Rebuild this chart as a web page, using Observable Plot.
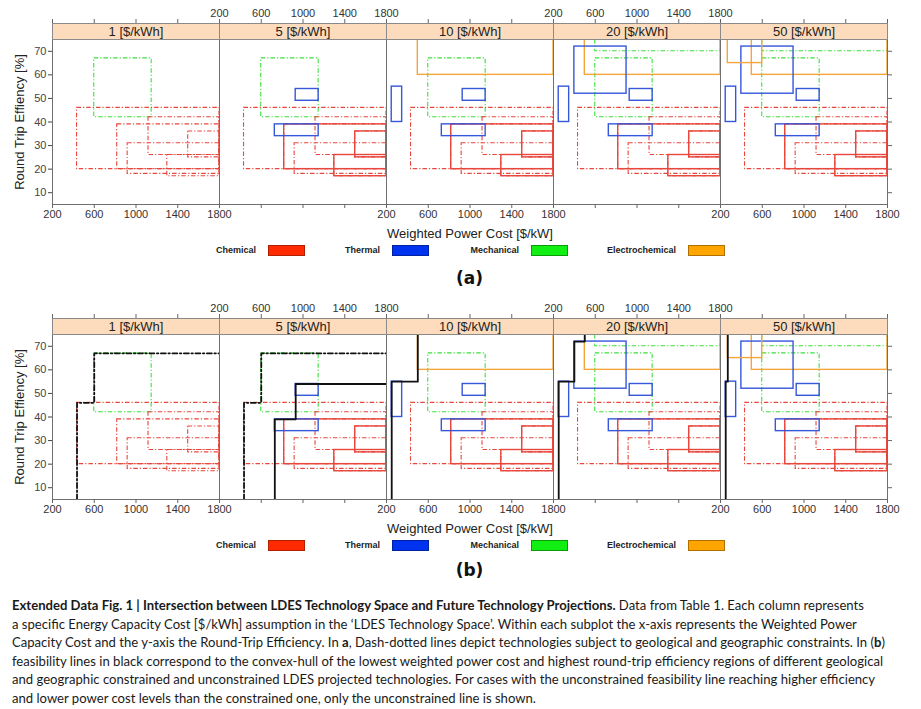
<!DOCTYPE html>
<html>
<head>
<meta charset="utf-8">
<script src="https://cdn.jsdelivr.net/npm/d3@7"></script>
<script src="https://cdn.jsdelivr.net/npm/@observablehq/plot@0.6"></script>
<style>
  html, body { margin: 0; padding: 0; background: #fff; }
  body { width: 921px; height: 709px; position: relative; overflow: hidden; font-family: "Liberation Sans", Arial, sans-serif; }
  .panel { position: absolute; left: 0; width: 921px; height: 295px; }
  .panel svg { position: absolute; left: 0; top: 0; }
  .leg-label { position: absolute; font-weight: bold; font-size: 9px; color: #222; text-align: right; width: 100px; line-height: 11px; }
  .leg-swatch { position: absolute; width: 37px; height: 11px; box-sizing: border-box; }
  .plabel { position: absolute; left: 0; width: 939px; text-align: center; font-family: "DejaVu Sans", sans-serif; font-weight: bold; font-size: 17px; color: #111; line-height: 20px; }
  #caption { position: absolute; left: 12px; top: 596px; font-family: Lato, "Open Sans", sans-serif; font-size: 13.1px; line-height: 18.5px; color: #1a1a1a; white-space: nowrap; }
</style>
</head>
<body>
<div id="panelA" class="panel" style="top:0px"></div>
<div id="panelB" class="panel" style="top:295px"></div>
<div id="caption"></div>
<script>
// ---------- data ----------
const energyCosts = [1, 5, 10, 20, 50];                 // $/kWh, one facet each
const powerTicks = [200, 600, 1000, 1400, 1800];         // x ticks, $/kW
const rteTicks = [10, 20, 30, 40, 50, 60, 70];           // y ticks, %
const techTypes = ["Chemical", "Thermal", "Mechanical", "Electrochemical"];
const techColors = ["#e8473d", "#3657da", "#3ddf3d", "#f4a53c"];
const swatchColors = ["#ff2a00", "#0033f0", "#11ee11", "#ffa500"];
const swatchBorders = ["#b02000", "#0022a0", "#0a9a0a", "#b07000"];

// technology regions (power cost range x RTE range)
const rectType        = ["Mechanical","Mechanical","Chemical","Chemical","Chemical","Chemical","Chemical","Chemical","Chemical","Chemical","Chemical","Thermal","Thermal","Thermal","Electrochemical","Thermal","Electrochemical"];
const rectPowerLo     = [600, 600, 435, 1120, 920, 820, 1500, 1300, 820, 1500, 1300, 930, 730, 250, 500, 400, 270];
const rectPowerHi     = [1150, 1800, 1800, 1800, 1800, 1800, 1800, 1800, 1800, 1800, 1800, 1150, 1150, 350, 1800, 900, 600];
const rectRteLo       = [42, 70, 20, 26, 18, 20, 25, 17, 20, 25, 17, 49, 34, 40, 60, 52, 65];
const rectRteHi       = [67, 80, 46, 42, 31, 39, 36, 26, 39, 36, 26, 54, 39, 55, 80, 72, 80];
const rectConstrained = [true, true, true, true, true, true, true, true, false, false, false, false, false, false, false, false, false];
const rectFromCost    = [1, 20, 1, 1, 1, 1, 1, 1, 5, 5, 5, 5, 5, 10, 10, 20, 50];

// feasibility lines (panel b)
const feasCost = [1, 5, 5, 10, 20, 50];
const feasConstrained = [true, true, false, false, false, false];
const feasPower = [
  [435, 435, 600, 600, 1800],
  [435, 435, 600, 600, 1800],
  [730, 730, 930, 930, 1800],
  [250, 250, 500, 500],
  [250, 250, 400, 400, 500, 500],
  [250, 250, 270, 270]
];
const feasRte = [
  [5, 46, 46, 67, 67],
  [5, 46, 46, 67, 67],
  [5, 39, 39, 54, 54],
  [5, 55, 55, 75],
  [5, 55, 55, 72, 72, 75],
  [5, 55, 55, 75]
];

// ---------- tables built from the arrays ----------
const rects = [];
rectType.forEach((t, i) => {
  energyCosts.forEach(c => {
    if (c >= rectFromCost[i]) rects.push({cost: c, type: t, x1: rectPowerLo[i], x2: rectPowerHi[i], y1: rectRteLo[i], y2: rectRteHi[i], constrained: rectConstrained[i]});
  });
});
const feasRows = [];
feasCost.forEach((c, i) => {
  feasPower[i].forEach((p, j) => feasRows.push({id: i, cost: c, x: p, y: feasRte[i][j], constrained: feasConstrained[i]}));
});
const tickRows = energyCosts.flatMap((c, k) => powerTicks.map(t => ({cost: c, t, k})));

const W = 921, H = 242, mT = 39, mB = 38, mL = 52, mR = 34, STRIP = 16;
const plotH = H - mT - mB;
const DASHDOT = "4.5,2,1.2,2";

function makePanel(withFeas) {
  const marks = [
    Plot.rect(rects.filter(d => d.constrained), {fx: "cost", x1: "x1", x2: "x2", y1: "y1", y2: "y2", stroke: "type", fill: "none", strokeWidth: 1.1, strokeDasharray: DASHDOT, clip: true}),
    Plot.rect(rects.filter(d => !d.constrained), {fx: "cost", x1: "x1", x2: "x2", y1: "y1", y2: "y2", stroke: "type", fill: "none", strokeWidth: 1.4, clip: true})
  ];
  if (withFeas) {
    marks.push(
      Plot.line(feasRows.filter(d => d.constrained), {fx: "cost", x: "x", y: "y", z: "id", stroke: "#111", strokeWidth: 1.8, strokeDasharray: "5,2.5,1.5,2.5", clip: true}),
      Plot.line(feasRows.filter(d => !d.constrained), {fx: "cost", x: "x", y: "y", z: "id", stroke: "#111", strokeWidth: 1.8, clip: true})
    );
  }
  marks.push(
    Plot.frame({stroke: "#6f6f6f", strokeWidth: 1}),
    Plot.frame({fill: "#fcdcbc", stroke: "#8a8a8a", strokeWidth: 1, insetTop: -STRIP, insetBottom: plotH}),
    Plot.text(energyCosts, {fx: d => d, text: d => `${d} [$/kWh]`, frameAnchor: "top", lineAnchor: "middle", dy: -STRIP / 2, fontSize: 13, fill: "#222"}),
    // bottom ticks and alternating labels
    Plot.ruleX(tickRows, {fx: "cost", x: "t", insetTop: plotH, insetBottom: -4, stroke: "#666"}),
    Plot.text(tickRows.filter(d => d.k % 2 === 0), {fx: "cost", x: "t", text: d => String(d.t), frameAnchor: "bottom", lineAnchor: "middle", dy: 10, fontSize: 11, fill: "#333"}),
    // top ticks and alternating labels
    Plot.ruleX(tickRows, {fx: "cost", x: "t", insetTop: -(STRIP + 4), insetBottom: plotH + STRIP, stroke: "#666"}),
    Plot.text(tickRows.filter(d => d.k % 2 === 1), {fx: "cost", x: "t", text: d => String(d.t), frameAnchor: "top", lineAnchor: "middle", dy: -(STRIP + 10), fontSize: 11, fill: "#333"}),
    // y axes
    Plot.axisY(rteTicks, {anchor: "left", tickSize: 4, tickPadding: 2, fontSize: 11, label: null, color: "#444"}),
    Plot.axisY(rteTicks, {anchor: "right", tickSize: 4, tickFormat: () => "", label: null, color: "#666"}),
    // axis titles
    Plot.text([energyCosts[0]], {fx: d => d, text: () => "Round Trip Effiency [%]", frameAnchor: "left", textAnchor: "middle", lineAnchor: "middle", dx: -33, rotate: -90, fontSize: 13, fill: "#222"}),
    Plot.text([energyCosts[2]], {fx: d => d, text: () => "Weighted Power Cost [$/kW]", frameAnchor: "bottom", lineAnchor: "middle", dy: 29, fontSize: 13, fill: "#222"})
  );
  return Plot.plot({
    width: W, height: H,
    marginTop: mT, marginBottom: mB, marginLeft: mL, marginRight: mR,
    style: {fontFamily: "Liberation Sans, Arial, sans-serif", fontSize: "11px", color: "#333", background: "transparent"},
    fx: {domain: energyCosts, padding: 0, axis: null, label: null},
    x: {domain: [200, 1800], axis: null},
    y: {domain: [5, 75]},
    color: {domain: techTypes, range: techColors},
    marks
  });
}

function addLegend(container) {
  const swX = [268, 392, 531, 688];
  techTypes.forEach((t, i) => {
    const lab = document.createElement("div");
    lab.className = "leg-label";
    lab.textContent = t;
    lab.style.left = (swX[i] - 12 - 100) + "px";
    lab.style.top = "245px";
    container.appendChild(lab);
    const sw = document.createElement("div");
    sw.className = "leg-swatch";
    sw.style.left = swX[i] + "px";
    sw.style.top = "245px";
    sw.style.background = swatchColors[i];
    sw.style.border = "1px solid " + swatchBorders[i];
    container.appendChild(sw);
  });
}

const pA = document.getElementById("panelA");
const pB = document.getElementById("panelB");
pA.appendChild(makePanel(false));
pB.appendChild(makePanel(true));
addLegend(pA); addLegend(pB);
const la = document.createElement("div"); la.className = "plabel"; la.textContent = "(a)"; la.style.top = "268px"; pA.appendChild(la);
const lb = document.createElement("div"); lb.className = "plabel"; lb.textContent = "(b)"; lb.style.top = "265px"; pB.appendChild(lb);

document.getElementById("caption").innerHTML = [
  "<b>Extended Data Fig. 1 | Intersection between LDES Technology Space and Future Technology Projections.</b> Data from Table 1. Each column represents",
  "a specific Energy Capacity Cost [$/kWh] assumption in the \u2018LDES Technology Space\u2019. Within each subplot the x-axis represents the Weighted Power",
  "Capacity Cost and the y-axis the Round-Trip Efficiency. In <b>a</b>, Dash-dotted lines depict technologies subject to geological and geographic constraints. In (<b>b</b>)",
  "feasibility lines in black correspond to the convex-hull of the lowest weighted power cost and highest round-trip efficiency regions of different geological",
  "and geographic constrained and unconstrained LDES projected technologies. For cases with the unconstrained feasibility line reaching higher efficiency",
  "and lower power cost levels than the constrained one, only the unconstrained line is shown."
].join("<br>");
</script>
</body>
</html>
